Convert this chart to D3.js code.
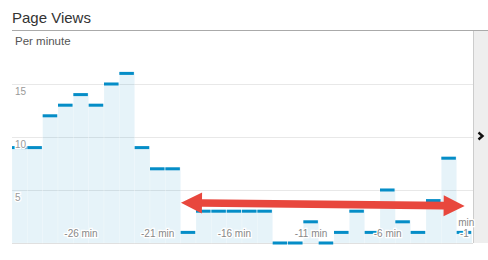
<!DOCTYPE html>
<html>
<head>
<meta charset="utf-8">
<script src="https://cdn.jsdelivr.net/npm/d3@7"></script>
<style>
  body { margin: 0; background: #fff; }
  svg { display: block; font-family: "Liberation Sans", Arial, sans-serif; }
</style>
</head>
<body>
<svg id="chart" width="488" height="260"></svg>
<script>
// minutes before now, one bar per minute
const minutes = [-30, -29, -28, -27, -26, -25, -24, -23, -22, -21,
                 -20, -19, -18, -17, -16, -15, -14, -13, -12, -11,
                 -10, -9, -8, -7, -6, -5, -4, -3, -2, -1];
const pageViews = [9, 9, 12, 13, 14, 13, 15, 16, 9, 7,
                   7, 1, 3, 3, 3, 3, 3, 0, 0, 2,
                   0, 1, 3, 1, 5, 2, 1, 4, 8, 1];
const tickMinutes = [-26, -21, -16, -11, -6, -1];
const tickLabels = ["-26 min", "-21 min", "-16 min", "-11 min", "-6 min", "-1 min"];
const yTicks = [5, 10, 15];
const yTickLabels = ["5", "10", "15"];
// red annotation arrow, in (minute position, value)
const arrowFrom = [-18.98, 3.8];
const arrowTo = [-0.48, 3.5];

var W = 488, H = 260;
var plotLeft = 12, plotRight = 472, plotTop = 31, plotBottom = 243;
var svg = d3.select('#chart');

var x = d3.scaleBand().domain(minutes).range([plotLeft, plotRight]).padding(0);
var xPos = d3.scaleLinear().domain([-30, 0]).range([plotLeft, plotRight]);
var y = d3.scaleLinear().domain([0, 20]).range([plotBottom, plotTop]);

// header
svg.append('text').attr('x', 12).attr('y', 23)
  .attr('font-size', 15).attr('fill', '#333').text('Page Views');
svg.append('line').attr('x1', 12).attr('x2', W).attr('y1', 30.5).attr('y2', 30.5)
  .attr('stroke', '#aaa');
svg.append('text').attr('x', 15).attr('y', 45)
  .attr('font-size', 11.5).attr('fill', '#555').text('Per minute');

// right side panel
svg.append('rect').attr('x', plotRight + 1).attr('y', 31).attr('width', W - plotRight - 1).attr('height', plotBottom - 31)
  .attr('fill', '#eee');
svg.append('line').attr('x1', plotRight + 1.5).attr('x2', plotRight + 1.5).attr('y1', 31).attr('y2', plotBottom)
  .attr('stroke', '#ccc');
svg.append('path').attr('d', 'M478.5,132.5 L482.5,136 L478.5,139.5')
  .attr('fill', 'none').attr('stroke', '#111').attr('stroke-width', 2.4);

// gridlines
svg.selectAll('.grid').data(yTicks).enter().append('line')
  .attr('x1', plotLeft).attr('x2', plotRight + 1)
  .attr('y1', function(d) { return Math.round(y(d)) + 0.5; })
  .attr('y2', function(d) { return Math.round(y(d)) + 0.5; })
  .attr('stroke', '#e8e8e8');
svg.append('line').attr('x1', plotLeft).attr('x2', plotRight + 1).attr('y1', plotBottom + 0.5).attr('y2', plotBottom + 0.5)
  .attr('stroke', '#ddd');

// bar fills
svg.selectAll('.fill').data(pageViews).enter().append('rect')
  .attr('x', function(d, i) { return x(minutes[i]); })
  .attr('y', function(d) { return y(d) - 1.5; })
  .attr('width', x.bandwidth())
  .attr('height', function(d) { return Math.max(0, plotBottom - y(d) + 1.5); })
  .attr('fill', '#058dc7').attr('fill-opacity', 0.1)
  .attr('stroke', '#fff').attr('stroke-opacity', 0.35).attr('stroke-width', 0.6);

// bar top markers
svg.selectAll('.mark').data(pageViews).enter().append('rect')
  .attr('x', function(d, i) { return x(minutes[i]); })
  .attr('y', function(d) { return y(d) - 1.5; })
  .attr('width', x.bandwidth() - 0.8)
  .attr('height', 3)
  .attr('fill', '#058dc7');

// y labels
svg.selectAll('.ylab').data(yTicks).enter().append('text')
  .attr('x', 15)
  .attr('y', function(d) { return y(d) + 11; })
  .attr('font-size', 10).attr('fill', '#999')
  .attr('stroke', '#fff').attr('stroke-width', 2.5).attr('paint-order', 'stroke')
  .text(function(d, i) { return yTickLabels[i]; });

// x labels
var xl = svg.selectAll('.xlab').data(tickMinutes).enter().append('text')
  .attr('font-size', 10).attr('fill', '#888').attr('text-anchor', 'middle')
  .attr('stroke', '#fff').attr('stroke-width', 2.5).attr('paint-order', 'stroke')
  .attr('x', function(d) { return x(d) + x.bandwidth() / 2; })
  .attr('y', 237);
xl.each(function(d, i) {
  var t = d3.select(this);
  var cx = x(d) + x.bandwidth() / 2;
  if (cx + 15 > plotRight) {
    var parts = tickLabels[i].split(' ');
    t.append('tspan').attr('x', cx + 2).attr('y', 226).text(parts[1]);
    t.append('tspan').attr('x', cx).attr('y', 237).text(parts[0]);
  } else {
    t.text(tickLabels[i]);
  }
});

// red double arrow annotation
function arrowPoints(a, b) {
  var x0 = xPos(a[0]), y0 = y(a[1]), x1 = xPos(b[0]), y1 = y(b[1]);
  var ang = Math.atan2(y1 - y0, x1 - x0);
  var len = Math.hypot(x1 - x0, y1 - y0);
  var hl = 21, hw = 10.5, sw = 3.8;
  var local = [[0, 0], [hl, -hw], [hl, -sw], [len - hl, -sw], [len - hl, -hw], [len, 0],
               [len - hl, hw], [len - hl, sw], [hl, sw], [hl, hw]];
  return local.map(function(p) {
    return [x0 + p[0] * Math.cos(ang) - p[1] * Math.sin(ang),
            y0 + p[0] * Math.sin(ang) + p[1] * Math.cos(ang)];
  });
}
svg.append('path')
  .attr('d', d3.line()(arrowPoints(arrowFrom, arrowTo)) + 'Z')
  .attr('fill', '#e8473d');
</script>
</body>
</html>
